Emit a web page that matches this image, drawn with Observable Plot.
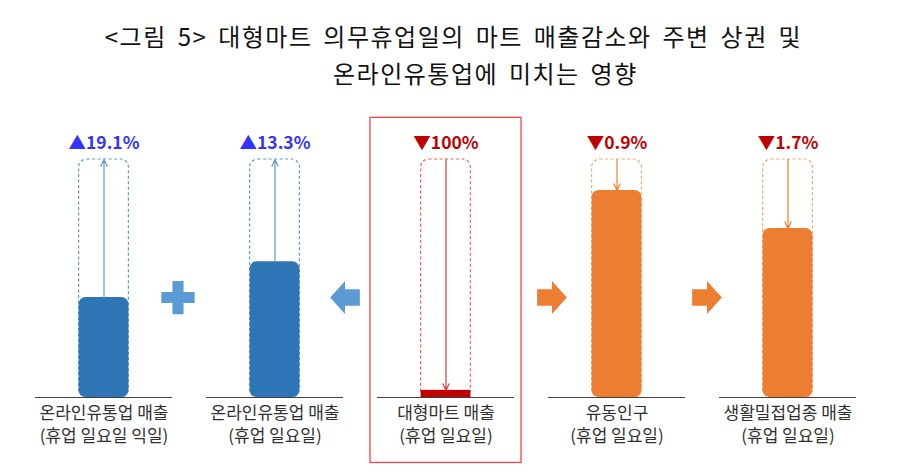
<!DOCTYPE html>
<html><head><meta charset="utf-8">
<script src="https://cdn.jsdelivr.net/npm/d3@7"></script>
<script src="https://cdn.jsdelivr.net/npm/@observablehq/plot@0.6"></script>
<style>
body{margin:0;background:#fff;font-family:"Noto Sans CJK KR","Noto Sans",sans-serif;}
#title{height:100px;position:relative;color:#111;font-size:24px;letter-spacing:1.5px;word-spacing:4px;}
#t1{position:absolute;top:18px;left:0;width:907px;text-align:center;white-space:nowrap;}
#t2{position:absolute;top:55px;left:333px;white-space:nowrap;}
</style></head>
<body>
<div id="title"><div id="t1">&lt;그림 5&gt; 대형마트 의무휴업일의 마트 매출감소와 주변 상권 및</div><div id="t2">온라인유통업에 미치는 영향</div></div>
<div id="chart"></div>
<script>
// panel categories (x-axis labels)
const categories = [
  "온라인유통업 매출\n(휴업 일요일 익일)",
  "온라인유통업 매출\n(휴업 일요일)",
  "대형마트 매출\n(휴업 일요일)",
  "유동인구\n(휴업 일요일)",
  "생활밀접업종 매출\n(휴업 일요일)"
];
// schematic bar heights (dashed box = 100)
const barValues = [42, 57, 3, 87, 71];
// change labels
const changeLabels = ["▲19.1%", "▲13.3%", "▼100%", "▼0.9%", "▼1.7%"];
const direction = ["up", "up", "down", "down", "down"];
const group = ["online", "online", "mart", "local", "local"];

const barColor = {online: "#2E75B6", mart: "#C00000", local: "#ED7D31"};
const boxColor = {online: "#5B9BD5", mart: "#FF5A5A", local: "#F4A66E"};
const arrowColor = {online: "#5B9BD5", mart: "#E03A3A", local: "#ED7D31"};
const labelColor = {up: "#3333FF", down: "#C00000"};

const data = categories.map((c, i) => ({cat: c, v: barValues[i], label: changeLabels[i], dir: direction[i], g: group[i]}));

const blockArrow = (dirSign) => ({
  draw(ctx, size) {
    const r = Math.sqrt(size / Math.PI);
    const w = 0.9 * r, h = r, sh = 0.5 * r;
    const s = dirSign;
    ctx.moveTo(-w * s, -sh);
    ctx.lineTo(0, -sh);
    ctx.lineTo(0, -h);
    ctx.lineTo(w * s, 0);
    ctx.lineTo(0, h);
    ctx.lineTo(0, sh);
    ctx.lineTo(-w * s, sh);
    ctx.closePath();
  }
});

const chart = Plot.plot({
  width: 907,
  height: 373,
  marginLeft: 0,
  marginRight: 15,
  marginTop: 59,
  marginBottom: 76,
  x: {type: "band", domain: categories, paddingInner: 0.7, paddingOuter: 0.458, axis: null},
  y: {domain: [0, 100], axis: null},
  style: {fontFamily: "'Noto Sans CJK KR', sans-serif", background: "white"},
  marks: [
    // red frame around the mart panel
    Plot.barY([data[2]], {x: "cat", y1: -27.5, y2: 117.5, fill: "none", stroke: "#FF4040", strokeWidth: 1.3, insetLeft: -50, insetRight: -50}),
    // dashed boxes
    Plot.barY(data, {x: "cat", y1: 0, y2: 100, fill: "none", stroke: d => boxColor[d.g], strokeDasharray: "3,2.5", strokeWidth: 1.2, rx: 8, insetLeft: 0.6, insetRight: 0.6}),
    // bars
    Plot.barY(data.filter(d => d.g !== "mart"), {x: "cat", y: "v", fill: d => barColor[d.g], rx: 7, insetLeft: 0.6, insetRight: 0.6}),
    Plot.barY(data.filter(d => d.g === "mart"), {x: "cat", y: "v", fill: d => barColor[d.g], insetLeft: 0.6, insetRight: 0.6}),
    // baselines
    Plot.tickY(data, {x: "cat", y: 0, stroke: "#404040", strokeWidth: 1.2, insetLeft: -43, insetRight: -43}),
    // change arrows
    Plot.arrow(data, {
      x: "cat",
      y1: d => d.dir === "up" ? d.v : 100,
      y2: d => d.dir === "up" ? 100 : d.v,
      stroke: d => arrowColor[d.g], strokeWidth: 1.2, headLength: 9, headAngle: 50
    }),
    // change labels
    Plot.text(data, {x: "cat", y: 100, text: "label", dy: -16, fill: d => labelColor[d.dir], fontSize: 17.5, fontWeight: "bold"}),
    // panel labels
    Plot.text(data, {x: "cat", y: 0, text: "cat", lineAnchor: "top", dy: 5, lineHeight: 1.35, fontSize: 17, fill: "#303030"}),
    // connectors
    Plot.dot([categories[0]], {x: d => d, y: 42, symbol: "cross", r: 14, fill: "#5B9BD5", stroke: null, dx: 74}),
    Plot.dot([categories[1]], {x: d => d, y: 42, symbol: blockArrow(-1), r: 16.5, fill: "#5B9BD5", stroke: null, dx: 70}),
    Plot.dot([categories[2]], {x: d => d, y: 42, symbol: blockArrow(1), r: 16.5, fill: "#ED7D31", stroke: null, dx: 106}),
    Plot.dot([categories[3]], {x: d => d, y: 42, symbol: blockArrow(1), r: 16.5, fill: "#ED7D31", stroke: null, dx: 90})
  ]
});
document.getElementById("chart").appendChild(chart);
</script>
</body></html>
